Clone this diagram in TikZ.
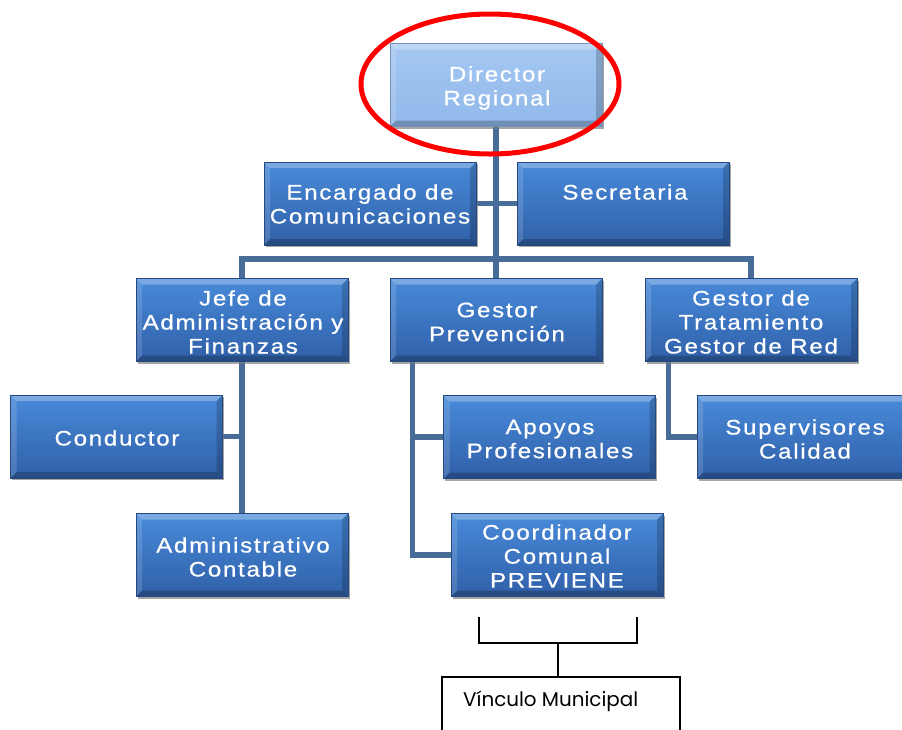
\documentclass[tikz,border=0pt]{standalone}
\usepackage{fontspec}
\setmainfont{Liberation Sans}
\newfontfamily\boxfont[LetterSpace=8,FakeStretch=1.15,FakeBold=0.6]{Liberation Sans}
\newfontfamily\vfont{Poppins}
\usetikzlibrary{calc,shadows}
\definecolor{boxtop}{RGB}{72,138,218}
\definecolor{boxbot}{RGB}{48,96,168}
\definecolor{boxedge}{RGB}{38,72,125}
\definecolor{dirtop}{RGB}{165,200,242}
\definecolor{dirbot}{RGB}{145,184,234}
\definecolor{conncol}{RGB}{72,108,152}
\tikzset{
  bevel/.style={path picture={
    \fill[white,opacity=.28] (path picture bounding box.north west) -- (path picture bounding box.north east) -- ($(path picture bounding box.north east)+(-6pt,-6pt)$) -- ($(path picture bounding box.north west)+(6pt,-6pt)$) -- cycle;
    \fill[white,opacity=.14] (path picture bounding box.north west) -- ($(path picture bounding box.north west)+(6pt,-6pt)$) -- ($(path picture bounding box.south west)+(6pt,6pt)$) -- (path picture bounding box.south west) -- cycle;
    \fill[black,opacity=.18] (path picture bounding box.north east) -- ($(path picture bounding box.north east)+(-6pt,-6pt)$) -- ($(path picture bounding box.south east)+(-6pt,6pt)$) -- (path picture bounding box.south east) -- cycle;
    \fill[black,opacity=.22] (path picture bounding box.south west) -- ($(path picture bounding box.south west)+(6pt,6pt)$) -- ($(path picture bounding box.south east)+(-6pt,6pt)$) -- (path picture bounding box.south east) -- cycle;
  }},
  orgbox/.style={rectangle, minimum width=212pt, minimum height=83pt, inner sep=0pt,
    top color=boxtop, bottom color=boxbot, draw=boxedge, line width=0.6pt, bevel,
    drop shadow={shadow xshift=1.5pt, shadow yshift=-2pt, opacity=.45, fill=gray}},
  dirbox/.style={orgbox, top color=dirtop, bottom color=dirbot, draw=dirbot!80!black},
  txt/.style={text=white, align=center, inner sep=0pt, font=\boxfont\fontsize{21}{24}\selectfont},
  conn/.style={draw=conncol, line width=5.5pt},
  bracket/.style={draw=black, line width=1.6pt},
}
\begin{document}
\begin{tikzpicture}[x=1pt,y=-1pt]
\useasboundingbox (0,0) rectangle (902,729);
% boxes (positions)
\node[dirbox] (dir) at (496,85) {};
\node[orgbox] (enc) at (370,203.5) {};
\node[orgbox] (sec) at (623,203.5) {};
\node[orgbox] (jefe) at (242,320) {};
\node[orgbox] (gp) at (496,320) {};
\node[orgbox] (gt) at (751,320) {};
\node[orgbox] (cond) at (116.5,436.5) {};
\node[orgbox] (apo) at (549.5,437) {};
\node[orgbox] (sup) at (803,437) {};
\node[orgbox] (adm) at (242,555) {};
\node[orgbox] (coo) at (557,555) {};
% connector lines
\coordinate (gpt) at ($(gp.south west)+(23pt,0pt)$);
\coordinate (gtt) at ($(gt.south west)+(24pt,0pt)$);
\draw[conn] (dir.south) -- (gp.north);
\draw[conn] (enc.east) -- (sec.west);
\draw[conn] (jefe.north) -- ++(0,-19) -| (gt.north);
\draw[conn] (jefe.south) -- (adm.north);
\draw[conn] (cond.east) -- (cond.east -| jefe.south);
\draw[conn] (gpt) |- (apo.west);
\draw[conn] (gpt) |- (coo.west);
\draw[conn] (gtt) |- (sup.west);
% redraw boxes on top of connectors
\node[dirbox] at (dir) {};
\node[orgbox] at (enc) {};
\node[orgbox] at (sec) {};
\node[orgbox] at (jefe) {};
\node[orgbox] at (gp) {};
\node[orgbox] at (gt) {};
\node[orgbox] at (cond) {};
\node[orgbox] at (apo) {};
\node[orgbox] at (sup) {};
\node[orgbox] at (adm) {};
\node[orgbox] at (coo) {};
% texts
\node[txt] (tdir) at (497,88) {Director\\Regional};
\node[txt] (tenc) at (370,204) {Encargado de\\Comunicaciones};
\node[txt] (tsec) at (625,192) {Secretaria};
\node[txt] (tjefe) at (243,322) {Jefe de\\Administraci\'on y\\Finanzas};
\node[txt] (tgp) at (497,322) {Gestor\\Prevenci\'on};
\node[txt] (tgt) at (751,322) {Gestor de\\Tratamiento\\Gestor de Red};
\node[txt] (tcond) at (117,438) {Conductor};
\node[txt] (tapo) at (550,439) {Apoyos\\Profesionales};
\node[txt] (tsup) at (805,439) {Supervisores\\Calidad};
\node[txt] (tadm) at (243,557) {Administrativo\\Contable};
\node[txt] (tcoo) at (557,556) {Coordinador\\Comunal\\PREVIENE};
% red ellipse
\draw[red, line width=5pt] (490,84) ellipse [x radius=129pt, y radius=70pt];
% bracket and link box
\coordinate (bl) at (479,617);
\coordinate (br) at (637,617);
\coordinate (bm) at (558,643);
\coordinate (vtop) at (558,677);
\draw[bracket] (bl) -- (bl |- bm) -- (br |- bm) -- (br);
\draw[bracket] (bm) -- (vtop);
\draw[draw=black, line width=1.4pt] (442,732) -- (442,677) -- (680,677) -- (680,732);
\node[inner sep=0pt, anchor=west] (vin) at (463,701) {\resizebox{175pt}{!}{\vfont V\'inculo Municipal}};
\end{tikzpicture}
\end{document}
